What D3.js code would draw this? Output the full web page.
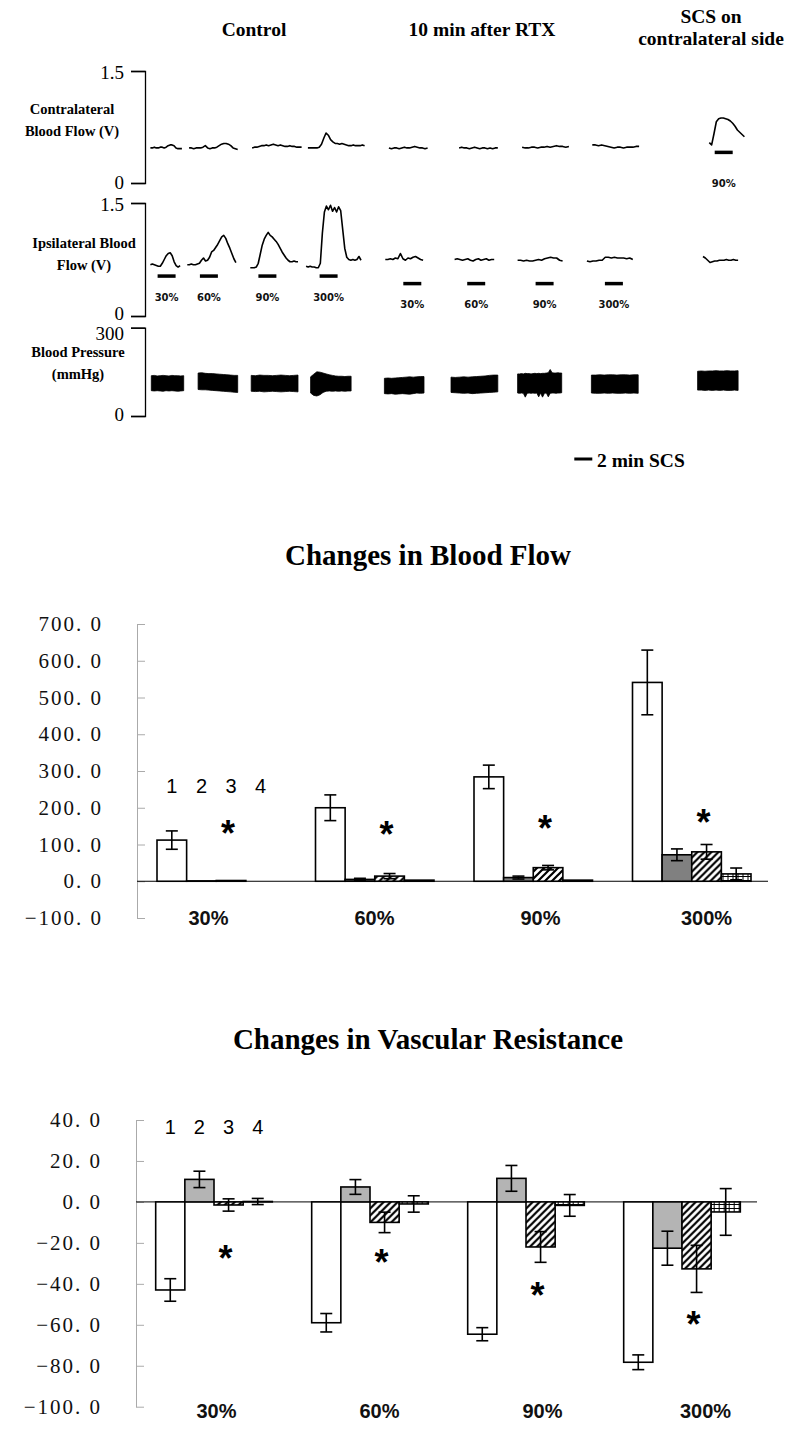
<!DOCTYPE html>
<html><head><meta charset="utf-8">
<script src="https://cdn.jsdelivr.net/npm/d3@7/dist/d3.min.js"></script>
<style>body{margin:0;background:#fff}svg{display:block}</style>
</head><body><svg id="c" width="800" height="1449"></svg>
<script>
// ---------------- DATA ----------------
const categories = ["30%", "60%", "90%", "300%"];
const seriesNames = ["1", "2", "3", "4"];

// Changes in Blood Flow (%) : mean per series, across categories
const flow1 = [112, 200, 284, 541];
const flow2 = [1, 5, 10, 72];
const flow3 = [2, 14, 37, 80];
const flow4 = [0, 3, 3, 20];
const flowErr1 = [25, 35, 32, 88];
const flowErr2 = [0, 3, 4, 16];
const flowErr3 = [0, 7, 6, 20];
const flowErr4 = [0, 0, 0, 16];
const flowStar = [150, 148, 165, 180];
const flowTicks = [-100, 0, 100, 200, 300, 400, 500, 600, 700];

// Changes in Vascular Resistance (%)
const res1 = [-43, -59, -64.6, -78.3];
const res2 = [11, 7.3, 11.5, -22.6];
const res3 = [-1.5, -10, -22, -32.7];
const res4 = [0.2, -1, -1.7, -4.9];
const resErr1 = [5.5, 4.5, 3.2, 3.6];
const resErr2 = [4, 3.6, 6.3, 8.3];
const resErr3 = [3, 5, 7.5, 11.5];
const resErr4 = [1.5, 4, 5.3, 11.4];
const resStar = [-24, -26, -42, -56];
const resTicks = [-100, -80, -60, -40, -20, 0, 20, 40];

// Recordings (time in minutes, flow in V, pressure in mmHg)
const contraTraces = [
  {start: 0.6, end: 4.1, v: [0.47,0.47,0.48,0.47,0.47,0.48,0.48,0.47,0.48,0.50,0.51,0.51,0.50,0.47,0.46,0.46,0.46]},
  {start: 4.9, end: 10.3, v: [0.47,0.47,0.46,0.47,0.47,0.47,0.48,0.50,0.47,0.46,0.47,0.47,0.48,0.50,0.52,0.53,0.53,0.52,0.50,0.47,0.46,0.45]},
  {start: 11.9, end: 17.4, v: [0.47,0.48,0.48,0.49,0.50,0.50,0.51,0.50,0.51,0.52,0.51,0.50,0.51,0.50,0.49,0.49,0.50,0.49,0.49,0.48,0.48,0.48]},
  {start: 18.1, end: 24.4, v: [0.47,0.47,0.47,0.47,0.47,0.48,0.52,0.60,0.67,0.64,0.58,0.55,0.53,0.53,0.52,0.53,0.52,0.51,0.50,0.50,0.51,0.50,0.50,0.50,0.51,0.50]},
  {start: 27.1, end: 31.4, v: [0.47,0.46,0.47,0.47,0.46,0.47,0.48,0.47,0.47,0.48,0.49,0.48,0.47,0.47,0.46,0.47]},
  {start: 34.9, end: 39.2, v: [0.47,0.48,0.47,0.47,0.46,0.47,0.48,0.47,0.46,0.47,0.47,0.46,0.47,0.46,0.47,0.47]},
  {start: 41.9, end: 47.1, v: [0.48,0.47,0.47,0.48,0.48,0.47,0.48,0.48,0.49,0.48,0.49,0.50,0.49,0.49,0.48,0.49]},
  {start: 49.7, end: 54.9, v: [0.51,0.51,0.50,0.51,0.50,0.49,0.48,0.47,0.48,0.48,0.47,0.48,0.48,0.48,0.49,0.49]},
  {start: 62.7, end: 66.6, v: [0.54,0.51,0.66,0.82,0.86,0.87,0.87,0.86,0.85,0.83,0.80,0.76,0.71,0.68,0.65,0.62]}
];
const ipsiTraces = [
  {start: 0.6, end: 3.9, v: [0.68,0.69,0.68,0.67,0.66,0.66,0.70,0.75,0.80,0.83,0.84,0.80,0.72,0.67,0.65,0.67]},
  {start: 4.7, end: 10.1, v: [0.68,0.68,0.69,0.68,0.68,0.69,0.70,0.74,0.77,0.73,0.74,0.78,0.85,0.87,0.91,0.95,1.00,1.05,1.07,1.03,0.96,0.90,0.83,0.76,0.71]},
  {start: 11.7, end: 17.0, v: [0.64,0.64,0.64,0.65,0.70,0.82,0.94,1.02,1.07,1.11,1.07,1.05,1.02,0.99,0.95,0.90,0.85,0.81,0.77,0.74,0.72,0.72,0.73,0.72,0.72]},
  {start: 17.9, end: 24.0, v: [0.66,0.65,0.66,0.65,0.65,0.64,0.64,0.70,1.10,1.38,1.46,1.41,1.47,1.39,1.44,1.38,1.45,1.40,1.15,0.90,0.78,0.75,0.74,0.75,0.74,0.75,0.79,0.74]},
  {start: 26.7, end: 30.9, v: [0.75,0.75,0.76,0.75,0.77,0.76,0.83,0.76,0.74,0.77,0.76,0.78,0.79,0.77,0.75,0.74]},
  {start: 34.4, end: 38.8, v: [0.75,0.76,0.75,0.74,0.75,0.76,0.74,0.73,0.75,0.76,0.74,0.75,0.76,0.74,0.75,0.75]},
  {start: 41.4, end: 46.4, v: [0.74,0.74,0.73,0.74,0.73,0.73,0.74,0.75,0.74,0.76,0.77,0.78,0.77,0.77,0.74,0.73]},
  {start: 49.1, end: 54.2, v: [0.73,0.72,0.73,0.73,0.74,0.74,0.78,0.78,0.77,0.78,0.77,0.77,0.77,0.76,0.77,0.75]},
  {start: 62.0, end: 65.9, v: [0.79,0.77,0.74,0.71,0.72,0.73,0.73,0.74,0.74,0.74,0.75,0.74,0.74,0.75,0.74,0.74]}
];
const bpBlocks = [
  {start: 0.7, end: 4.3, top: [137,138,136,137,138,137,136,138,137,137,136,137], bottom: [86,85,86,85,84,86,85,86,85,84,85,86]},
  {start: 5.9, end: 10.3, top: [146,147,145,144,144,143,142,141,140,139,138,138], bottom: [90,89,89,88,87,86,85,84,83,82,81,80]},
  {start: 11.8, end: 17.0, top: [138,137,139,138,138,137,138,139,138,137,138,139], bottom: [84,83,84,82,83,84,83,82,83,84,83,82]},
  {start: 18.4, end: 22.9, top: [133,142,150,149,146,143,140,138,136,135,135,134,135,135], bottom: [78,70,68,72,80,84,85,84,85,84,85,84,85,85]},
  {start: 26.6, end: 31.0, top: [128,129,128,129,130,131,132,133,132,133,134,134], bottom: [76,75,76,74,75,76,75,74,76,78,77,78]},
  {start: 34.0, end: 39.2, top: [132,131,132,133,132,133,134,135,136,138,139,139], bottom: [80,79,78,77,78,76,77,78,79,80,81,82]},
  {start: 41.4, end: 46.3, top: [143,143,144,143,145,144,144,143,144,145,144,145,144,145,145,146,147,158,147,146,146,147,146,146], bottom: [78,77,78,77,64,77,78,77,78,77,78,65,78,64,77,78,65,77,78,78,77,78,78,79]},
  {start: 49.6, end: 54.8, top: [139,139,140,139,140,140,139,140,140,139,140,140], bottom: [78,77,77,78,77,78,77,77,78,77,78,77]},
  {start: 61.4, end: 65.9, top: [152,153,152,153,153,154,153,153,154,153,153,154], bottom: [88,88,87,88,87,88,87,88,87,87,88,87]}
];
// SCS periods (2 min each): start time, bar level (V), label level (V)
const stimIpsi = [
  {t: 1.4, label: "30%", level: 0.53, labelLevel: 0.20},
  {t: 6.1, label: "60%", level: 0.53, labelLevel: 0.20},
  {t: 12.6, label: "90%", level: 0.53, labelLevel: 0.20},
  {t: 19.4, label: "300%", level: 0.53, labelLevel: 0.20},
  {t: 28.7, label: "30%", level: 0.43, labelLevel: 0.105},
  {t: 35.8, label: "60%", level: 0.43, labelLevel: 0.105},
  {t: 43.4, label: "90%", level: 0.43, labelLevel: 0.105},
  {t: 51.1, label: "300%", level: 0.43, labelLevel: 0.105}
];
const stimContra = [{t: 63.3, label: "90%", level: 0.41, labelLevel: -0.05}];
const stimDuration = 2;

// ---------------- DRAW ----------------
const svg = d3.select("#c");
const defs = svg.append("defs");
const hatch = defs.append("pattern").attr("id", "hatch").attr("patternUnits", "userSpaceOnUse")
  .attr("width", 7).attr("height", 7);
hatch.append("rect").attr("width", 7).attr("height", 7).attr("fill", "#fff");
hatch.append("path").attr("d", "M-1,1 l2,-2 M0,7 l7,-7 M6,8 l2,-2")
  .attr("stroke", "#000").attr("stroke-width", 2.2);
const brick = defs.append("pattern").attr("id", "brick").attr("patternUnits", "userSpaceOnUse")
  .attr("width", 5).attr("height", 4);
brick.append("rect").attr("width", 5).attr("height", 4).attr("fill", "#fff");
brick.append("path").attr("d", "M0,0.5 H5 M0.5,0 V4").attr("stroke", "#000").attr("stroke-width", 1);

const SERIF = "'Liberation Serif','Times New Roman',serif";
const SANS = "'Liberation Sans',Arial,sans-serif";

// ----- top panel: recordings -----
const tScale = d3.scaleLinear().domain([0, 10]).range([145, 235]);
const yContra = d3.scaleLinear().domain([0, 1.5]).range([183, 71]);
const yIpsi = d3.scaleLinear().domain([0, 1.5]).range([316, 203]);
const yBP = d3.scaleLinear().domain([0, 300]).range([416, 327.7]);

const panel = svg.append("g");
const headers = [
  {text: ["Control"], x: 254, y: 36},
  {text: ["10 min after RTX"], x: 482, y: 36},
  {text: ["SCS on", "contralateral side"], x: 711, y: 23}
];
headers.forEach(h => {
  const t = panel.append("text").attr("x", h.x).attr("y", h.y).attr("text-anchor", "middle")
    .attr("font-family", SERIF).attr("font-weight", "bold").attr("font-size", 19.5);
  h.text.forEach((s, i) => t.append("tspan").attr("x", h.x).attr("dy", i ? 22 : 0).text(s));
});

function rowAxis(y, fmt, labels, lx, ly, shiftLow, shiftHigh) {
  const g = panel.append("g").attr("transform", "translate(145,0)")
    .call(d3.axisLeft(y).tickValues(y.domain()).tickSize(14).tickSizeOuter(14).tickPadding(7).tickFormat(fmt));
  g.selectAll("path,line").attr("stroke", "#000").attr("stroke-width", 1.3);
  g.selectAll("text").attr("font-family", SERIF).attr("font-size", 19).attr("fill", "#000")
    .attr("transform", d => `translate(0,${d === 0 ? shiftLow : shiftHigh})`);
  const t = panel.append("text").attr("text-anchor", "middle").attr("font-family", SERIF)
    .attr("font-weight", "bold").attr("font-size", 14.5);
  labels.forEach((s, i) => t.append("tspan").attr("x", lx).attr("y", ly + i * 22).text(s));
}
rowAxis(yContra, d => d === 0 ? "0" : "1.5", ["Contralateral", "Blood Flow (V)"], 72, 114, -1, 1);
rowAxis(yIpsi, d => d === 0 ? "0" : "1.5", ["Ipsilateral Blood", "Flow (V)"], 84, 248, -3, 1);
rowAxis(yBP, d => String(d), ["Blood Pressure", "(mmHg)"], 78, 357, -2, 6);

function drawTraces(traces, y) {
  traces.forEach(tr => {
    const n = tr.v.length;
    const line = d3.line()
      .x((d, i) => tScale(tr.start + (tr.end - tr.start) * i / (n - 1)))
      .y(d => y(d));
    panel.append("path").attr("d", line(tr.v)).attr("fill", "none").attr("stroke", "#000")
      .attr("stroke-width", 1.6).attr("stroke-linejoin", "round");
  });
}
drawTraces(contraTraces, yContra);
drawTraces(ipsiTraces, yIpsi);

bpBlocks.forEach(b => {
  const n = b.top.length;
  const area = d3.area()
    .x((d, i) => tScale(b.start + (b.end - b.start) * i / (n - 1)))
    .y0((d, i) => yBP(b.bottom[i]))
    .y1(d => yBP(d));
  panel.append("path").attr("d", area(b.top)).attr("fill", "#000").attr("stroke", "#000").attr("stroke-width", 0.8);
});

function drawStim(list, y) {
  list.forEach(s => {
    panel.append("line").attr("x1", tScale(s.t)).attr("x2", tScale(s.t + stimDuration))
      .attr("y1", y(s.level)).attr("y2", y(s.level)).attr("stroke", "#000").attr("stroke-width", 3.5);
    panel.append("text").attr("x", tScale(s.t + stimDuration / 2)).attr("y", y(s.labelLevel))
      .attr("text-anchor", "middle").attr("font-family", "'DejaVu Sans',sans-serif")
      .attr("font-weight", "bold").attr("font-size", 10).attr("fill", "#111").text(s.label);
  });
}
drawStim(stimIpsi, yIpsi);
drawStim(stimContra, yContra);

// legend: 2 min SCS
panel.append("line").attr("x1", tScale(47.7)).attr("x2", tScale(47.7 + stimDuration))
  .attr("y1", 459).attr("y2", 459).attr("stroke", "#000").attr("stroke-width", 3);
panel.append("text").attr("x", 597).attr("y", 467).attr("font-family", SERIF).attr("font-weight", "bold")
  .attr("font-size", 19.5).text("2 min SCS");

// ----- bar charts -----
function barChart(o) {
  const g = svg.append("g");
  const x0 = d3.scaleBand().domain(categories).range(o.xRange).paddingInner(0.2524).paddingOuter(0.1262);
  const x1 = d3.scaleBand().domain(seriesNames).range([0, x0.bandwidth()]);
  const y = d3.scaleLinear().domain(o.yDomain).range(o.yRange);
  const xl = d3.scalePoint().domain(categories).range(o.labelRange);

  g.append("text").attr("x", 428).attr("y", o.titleY).attr("text-anchor", "middle")
    .attr("font-family", SERIF).attr("font-weight", "bold").attr("font-size", 29).text(o.title);

  const ax = g.append("g").attr("transform", `translate(${o.xRange[0]},0)`)
    .call(d3.axisLeft(y).tickValues(o.ticks).tickSize(-8).tickSizeOuter(0).tickPadding(34)
      .tickFormat(d => (d < 0 ? "\u2212" : "") + Math.abs(d) + ". 0"));
  ax.selectAll("path,line").attr("stroke", "#aaa").attr("stroke-width", 1);
  ax.selectAll("text").attr("font-family", SERIF).attr("font-size", 21).attr("letter-spacing", 2)
    .attr("fill", "#111");

  g.append("line").attr("x1", o.xRange[0]).attr("x2", o.xRange[1] - 3)
    .attr("y1", y(0)).attr("y2", y(0)).attr("stroke", "#000").attr("stroke-width", 1);

  const rows = categories.map((c, ci) => ({
    cat: c,
    bars: seriesNames.map((s, si) => ({s, si, v: o.means[si][ci], e: o.errs[si][ci]}))
  }));
  const grp = g.selectAll("g.grp").data(rows).join("g").attr("class", "grp")
    .attr("transform", d => `translate(${x0(d.cat)},0)`);
  grp.selectAll("rect").data(d => d.bars).join("rect")
    .attr("x", d => x1(d.s)).attr("width", x1.bandwidth())
    .attr("y", d => y(Math.max(0, d.v))).attr("height", d => Math.abs(y(d.v) - y(0)))
    .attr("fill", d => o.fills[d.si]).attr("stroke", "#000").attr("stroke-width", 1.6);
  const eb = grp.selectAll("g.eb").data(d => d.bars.filter(b => b.e > 0)).join("g").attr("class", "eb");
  const cx = d => x1(d.s) + x1.bandwidth() / 2;
  eb.append("line").attr("x1", cx).attr("x2", cx).attr("y1", d => y(d.v + d.e)).attr("y2", d => y(d.v - d.e));
  eb.append("line").attr("x1", d => cx(d) - 6).attr("x2", d => cx(d) + 6).attr("y1", d => y(d.v + d.e)).attr("y2", d => y(d.v + d.e));
  eb.append("line").attr("x1", d => cx(d) - 6).attr("x2", d => cx(d) + 6).attr("y1", d => y(d.v - d.e)).attr("y2", d => y(d.v - d.e));
  eb.selectAll("line").attr("stroke", "#000").attr("stroke-width", 1.6);

  // series numbers above the first group
  g.selectAll("text.num").data(seriesNames).join("text").attr("class", "num")
    .attr("x", d => x0(categories[0]) + x1(d) + x1.bandwidth() / 2).attr("y", o.numY)
    .attr("text-anchor", "middle").attr("font-family", SANS).attr("font-size", 20).text(d => d);

  // significance asterisks at series 3
  g.selectAll("text.star").data(categories).join("text").attr("class", "star")
    .attr("x", (d, i) => x0(d) + x1("3") + x1.bandwidth() / 2 - 3)
    .attr("y", (d, i) => y(o.stars[i]) + 20)
    .attr("text-anchor", "middle").attr("font-family", SANS).attr("font-weight", "bold")
    .attr("font-size", 36).text("*");

  const xa = g.append("g").attr("transform", `translate(0,${o.catY})`)
    .call(d3.axisBottom(xl).tickSize(0).tickPadding(0));
  xa.select(".domain").remove();
  xa.selectAll("text").attr("font-family", SANS).attr("font-weight", "bold").attr("font-size", 20)
    .attr("fill", "#111").attr("dy", "0");
}

barChart({
  title: "Changes in Blood Flow", titleY: 565,
  means: [flow1, flow2, flow3, flow4], errs: [flowErr1, flowErr2, flowErr3, flowErr4],
  stars: flowStar, ticks: flowTicks,
  yDomain: [-100, 700], yRange: [918, 624], xRange: [137, 771], labelRange: [208, 706],
  fills: ["#fff", "#808080", "url(#hatch)", "url(#brick)"],
  numY: 793, catY: 925
});
barChart({
  title: "Changes in Vascular Resistance", titleY: 1049,
  means: [res1, res2, res3, res4], errs: [resErr1, resErr2, resErr3, resErr4],
  stars: resStar, ticks: resTicks,
  yDomain: [-100, 40], yRange: [1406.7, 1120], xRange: [136, 760], labelRange: [216, 705],
  fills: ["#fff", "#b4b4b4", "url(#hatch)", "url(#brick)"],
  numY: 1134, catY: 1418
});
</script></body></html>
